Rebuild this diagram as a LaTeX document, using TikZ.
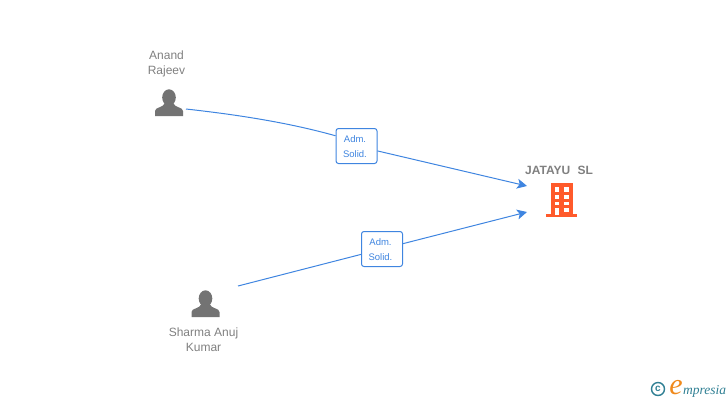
\documentclass[tikz,border=0pt]{standalone}
\usepackage{fontspec}
\setmainfont{Liberation Sans}
\newfontfamily\logofont{Liberation Serif}
\usetikzlibrary{arrows.meta}
\definecolor{linkblue}{HTML}{3F85E0}
\definecolor{txtgrey}{HTML}{808080}
\definecolor{icongrey}{HTML}{737373}
\definecolor{firmred}{HTML}{FF5A2B}
\definecolor{logoteal}{HTML}{2F7F93}
\definecolor{logoorange}{HTML}{F08A1D}
\newcommand{\admlabel}{\rule{0pt}{9pt}Adm.\hspace*{3pt}\\Solid.\hspace*{3pt}}
\tikzset{
	who/.style={text=txtgrey, font=\fontsize{12}{15}\selectfont, align=center, inner sep=0pt},
	firm/.style={text=txtgrey, font=\fontsize{12}{15}\selectfont\bfseries, inner sep=0pt},
	role/.style={draw=linkblue, fill=white, rounded corners=2.5pt, line width=1pt, text=linkblue,
		font=\fontsize{9.5}{15}\selectfont, align=center, minimum width=41pt, minimum height=35pt, inner sep=0pt},
	link/.style={draw=linkblue, line width=1pt},
	linkend/.style={link, -{Stealth[length=10pt,width=10pt,inset=2.5pt]}},
	person/.pic={
		\fill[icongrey] (0,-3.5) ellipse (6.8 and 8.2);
		\fill[icongrey] (-14,15) -- (-14,10) .. controls (-14,6) and (-6,7) .. (-4,2)
			-- (4,2) .. controls (6,7) and (14,6) .. (14,10) -- (14,15) -- cycle;
	},
	building/.pic={
		\fill[firmred] (-11,-17) rectangle (11,15);
		\fill[firmred] (-15.5,14) rectangle (15.5,17);
		\foreach \wy/\wh in {-13/4.5, -5.5/4.5, 1.5/3.5}
			\foreach \wx in {-7, 2.5}
				\fill[white] (\wx,\wy) rectangle ++(4.5,\wh);
		\fill[white] (-7,8) rectangle ++(4.5,7);
		\fill[white] (2.5,8) rectangle ++(4.5,4);
	}
}
\begin{document}
\begin{tikzpicture}[x=1pt, y=-1pt]
	\useasboundingbox (0,0) rectangle (728,400);
	% people and company
	\path (169,101) pic {person};
	\path (205.5,302) pic {person};
	\path (561.5,200) pic {building};
	\node[who] (anand) at (166.5,64) {Anand\\Rajeev};
	\node[who] (sharma) at (203.5,340) {Sharma Anuj\\Kumar};
	\node[firm] (jatayu) at (559,170.5) {JATAYU\hspace{4pt} SL};
	% link ends
	\coordinate (anandout) at (186,109);
	\coordinate (sharmaout) at (238,286);
	\coordinate (jatayuin) at (527,186);
	\coordinate (jatayuin2) at (527,212);
	\node[role] (admone) at (356.5,146) {\admlabel};
	\node[role] (admtwo) at (382,249) {\admlabel};
	\draw[link] (anandout) .. controls (240,115) and (290,123) .. (admone.154);
	\draw[linkend] (admone) -- (jatayuin);
	\draw[link] (sharmaout) -- (admtwo);
	\draw[linkend] (admtwo) -- (jatayuin2);
	% logo
	\node[draw=logoteal, line width=1.4pt, circle, minimum size=13pt, inner sep=0pt, text=logoteal,
		font=\fontsize{10}{10}\selectfont\bfseries] (copyr) at (658,389) {c};
	\node[anchor=base west, inner sep=0pt, text=logoteal, font=\logofont\itshape\fontsize{13.5}{14}\selectfont] (logoname) at (683,394)
		{mpresia};
	\node[anchor=base east, inner sep=0pt, text=logoorange, font=\logofont\itshape\fontsize{30}{30}\selectfont] (logoe) at (logoname.base west) {e};
\end{tikzpicture}
\end{document}
